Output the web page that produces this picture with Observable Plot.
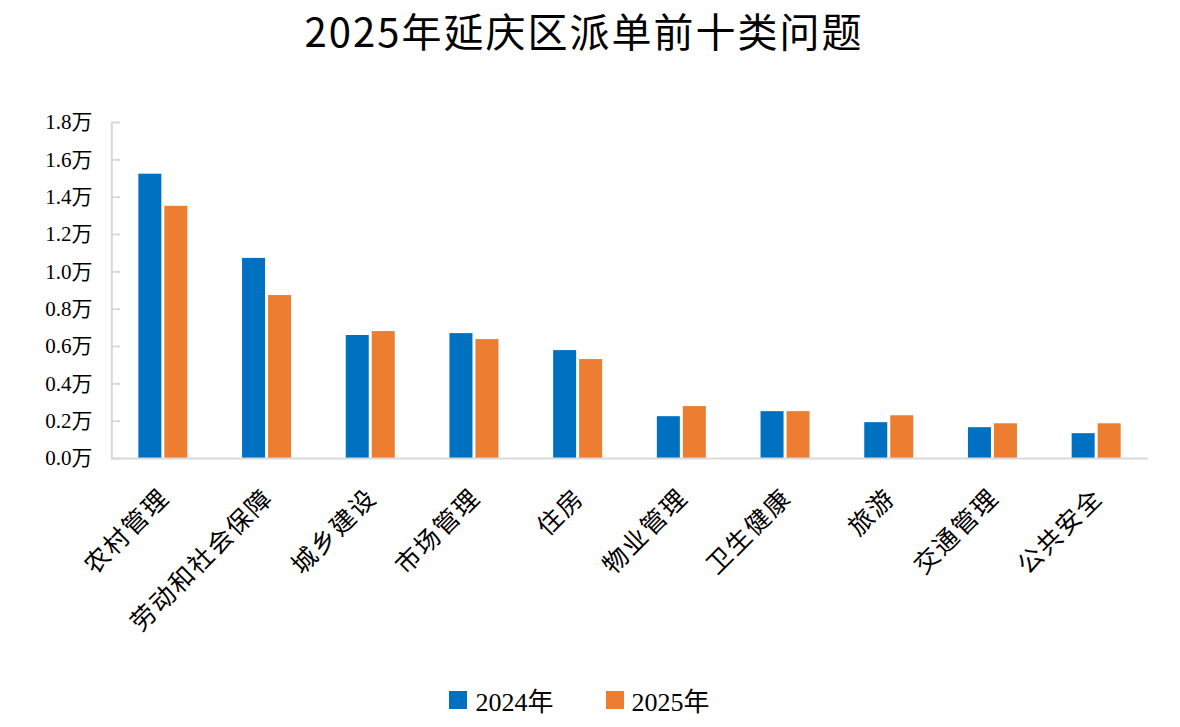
<!DOCTYPE html>
<html>
<head>
<meta charset="utf-8">
<script src="https://cdn.jsdelivr.net/npm/d3@7"></script>
<script src="https://cdn.jsdelivr.net/npm/@observablehq/plot@0.6"></script>
<style>
  html, body { margin: 0; padding: 0; background: #fff; }
  body { width: 1180px; height: 727px; overflow: hidden; }
  #title { height: 80px; line-height: 60px; text-align: center; font-family: "Noto Sans CJK SC", sans-serif; font-size: 40px; font-weight: 400; letter-spacing: 2px; color: #000; padding-right: 12px; box-sizing: border-box; }
  #chart { height: 600px; }
  #chart g[aria-label="x-axis tick label"] text { letter-spacing: 2px; }
  #legend { height: 47px; display: flex; justify-content: center; align-items: center; padding-right: 21px; margin-top: -4px; font-family: "Liberation Serif", "Noto Sans CJK SC", serif; font-size: 26px; color: #000; }
  .item { display: flex; align-items: center; }
  .sw { width: 18px; height: 18px; margin-right: 8px; }
  .gap { width: 52px; }
</style>
</head>
<body>
<div id="title">2025年延庆区派单前十类问题</div>
<div id="chart"></div>
<div id="legend"></div>
<script>
const categories = ["农村管理", "劳动和社会保障", "城乡建设", "市场管理", "住房", "物业管理", "卫生健康", "旅游", "交通管理", "公共安全"];
const years = ["2024年", "2025年"];
const values2024 = [1.523, 1.072, 0.659, 0.669, 0.578, 0.224, 0.251, 0.192, 0.165, 0.133];
const values2025 = [1.351, 0.873, 0.680, 0.637, 0.530, 0.278, 0.251, 0.229, 0.186, 0.186];
const yTicks = [0, 0.2, 0.4, 0.6, 0.8, 1.0, 1.2, 1.4, 1.6, 1.8];
const colors = ["#0070C0", "#ED7D31"];

const rows2024 = categories.map((c, i) => ({cat: c, year: years[0], value: values2024[i]}));
const rows2025 = categories.map((c, i) => ({cat: c, year: years[1], value: values2025[i]}));

const W = 1180, ML = 111, MR = 32;
const band = (W - ML - MR) / categories.length;
const barW = 23, gap = 3;
const c = band / 2;
const grey = "#d9d9d9";

const chart = Plot.plot({
  width: W,
  height: 600,
  marginLeft: ML,
  marginRight: MR,
  marginTop: 42,
  marginBottom: 222,
  style: {fontFamily: '"Liberation Serif", "Noto Sans CJK SC", serif', color: "#000", background: "#fff"},
  x: {domain: categories, padding: 0, round: false, label: null},
  y: {domain: [0, 1.8], label: null},
  color: {domain: years, range: colors},
  marks: [
    Plot.barY(rows2024, {x: "cat", y: "value", fill: "year", insetLeft: c - gap / 2 - barW, insetRight: c + gap / 2}),
    Plot.barY(rows2025, {x: "cat", y: "value", fill: "year", insetLeft: c + gap / 2, insetRight: c - gap / 2 - barW}),
    Plot.ruleY([0], {stroke: grey, strokeWidth: 2}),
    Plot.ruleX([categories[0]], {x: d => d, dx: -c + 0.3, y1: 0, y2: 1.8, stroke: grey, strokeWidth: 2}),
    Plot.ruleY(yTicks, {y: d => d, x1: () => categories[0], x2: () => categories[0], insetRight: band - 9, stroke: grey, strokeWidth: 2}),
    Plot.axisY({ticks: yTicks, tickFormat: d => d.toFixed(1) + "万", tickSize: 0, tickPadding: 19, fontSize: 21, label: null}),
    Plot.axisX({tickSize: 0, tickRotate: -45, tickPadding: 35, fontSize: 25, label: null, dx: 2})
  ]
});
document.getElementById("chart").appendChild(chart);

const legend = document.getElementById("legend");
years.forEach((y, i) => {
  if (i > 0) { const g = document.createElement("div"); g.className = "gap"; legend.appendChild(g); }
  const it = document.createElement("div");
  it.className = "item";
  it.innerHTML = `<div class="sw" style="background:${colors[i]}"></div><span>${y}</span>`;
  legend.appendChild(it);
});
</script>
</body>
</html>
